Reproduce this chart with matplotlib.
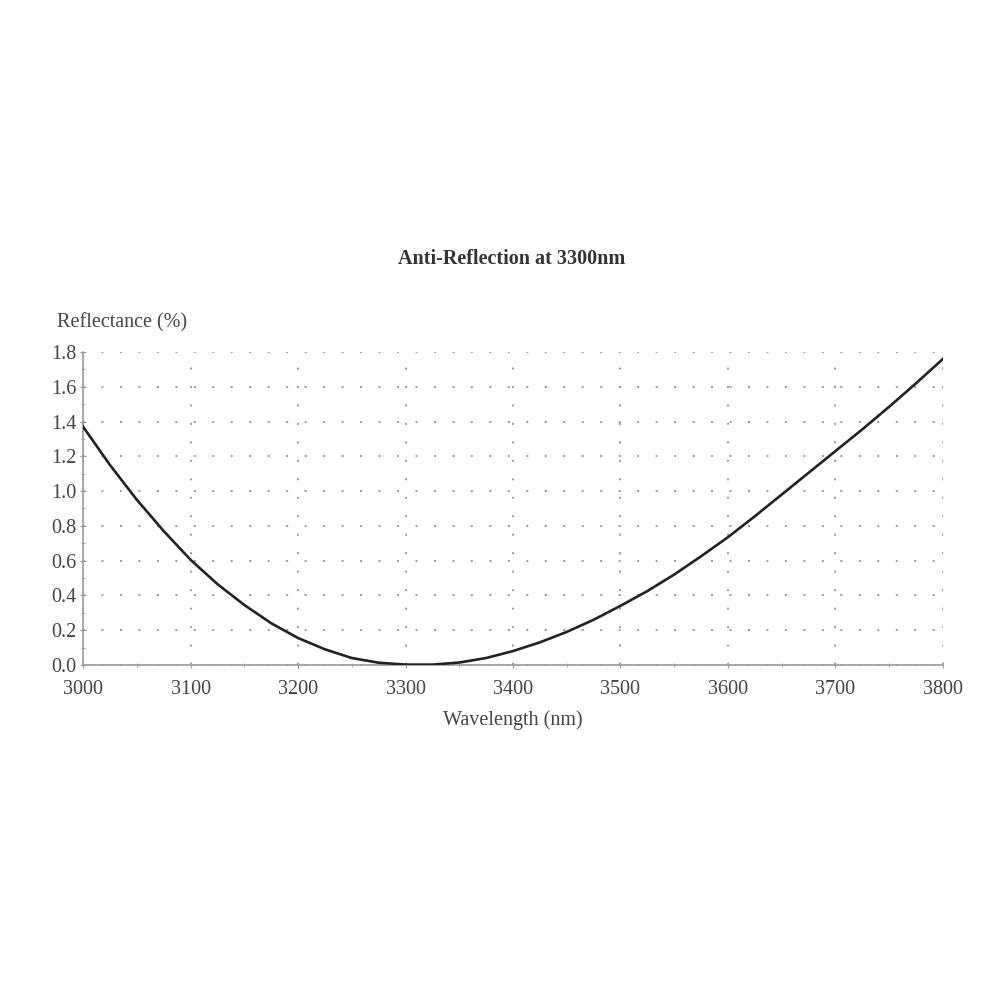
import numpy as np
import matplotlib.pyplot as plt

# Reflectance curve (25 nm steps)
wavelength = [3000, 3025, 3050, 3075, 3100, 3125, 3150, 3175, 3200, 3225,
              3250, 3275, 3300, 3325, 3350, 3375, 3400, 3425, 3450, 3475,
              3500, 3525, 3550, 3575, 3600, 3625, 3650, 3675, 3700, 3725,
              3750, 3775, 3800]
reflectance = [1.37, 1.15, 0.95, 0.77, 0.605, 0.465, 0.345, 0.24, 0.155, 0.09,
               0.04, 0.013, 0.002, 0.002, 0.014, 0.04, 0.08, 0.13, 0.19, 0.26,
               0.34, 0.425, 0.52, 0.625, 0.735, 0.855, 0.98, 1.105, 1.23, 1.355,
               1.485, 1.62, 1.76]

x_ticks = [3000, 3100, 3200, 3300, 3400, 3500, 3600, 3700, 3800]
y_ticks = [0.0, 0.2, 0.4, 0.6, 0.8, 1.0, 1.2, 1.4, 1.6, 1.8]

plt.rcParams['font.family'] = ['Liberation Serif', 'DejaVu Serif']

fig = plt.figure(figsize=(10.01, 10.01), dpi=100)
ax = fig.add_axes([0.083, 0.3357, 0.859, 0.3127])

ax.plot(wavelength, reflectance, color='#222222', lw=1.9, zorder=3,
        solid_joinstyle='round')

ax.set_xlim(3000, 3800)
ax.set_ylim(0, 1.8)
ax.set_xticks(x_ticks)
ax.set_yticks(y_ticks)
ax.set_xticks([3050 + 100 * i for i in range(8)], minor=True)
ax.set_yticks([0.1 + 0.2 * i for i in range(9)], minor=True)
ax.set_yticklabels([f'{v:.1f}' for v in y_ticks])

ax.grid(True, which='major', color='#999999', lw=1.4, linestyle=(0, (1, 8.5)))

for side in ['top', 'right']:
    ax.spines[side].set_visible(False)
for side in ['left', 'bottom']:
    ax.spines[side].set_color('#999999')
    ax.spines[side].set_linewidth(1.2)

ax.tick_params(which='both', direction='inout', color='#999999', length=4,
               labelsize=14.5, labelcolor='#444444')
ax.tick_params(which='minor', length=3)
ax.tick_params(axis='x', pad=9)
ax.tick_params(axis='y', pad=3)

ax.set_xlabel('Wavelength (nm)', fontsize=14.5, color='#444444', labelpad=8)
fig.text(0.057, 0.678, 'Reflectance (%)', fontsize=14.5, color='#444444',
         ha='left', va='center')
fig.text(0.511, 0.741, 'Anti-Reflection at 3300nm', fontsize=14.5,
         fontweight='bold', color='#333333', ha='center', va='center')

fig.savefig('out.png', dpi=100, facecolor='white')
